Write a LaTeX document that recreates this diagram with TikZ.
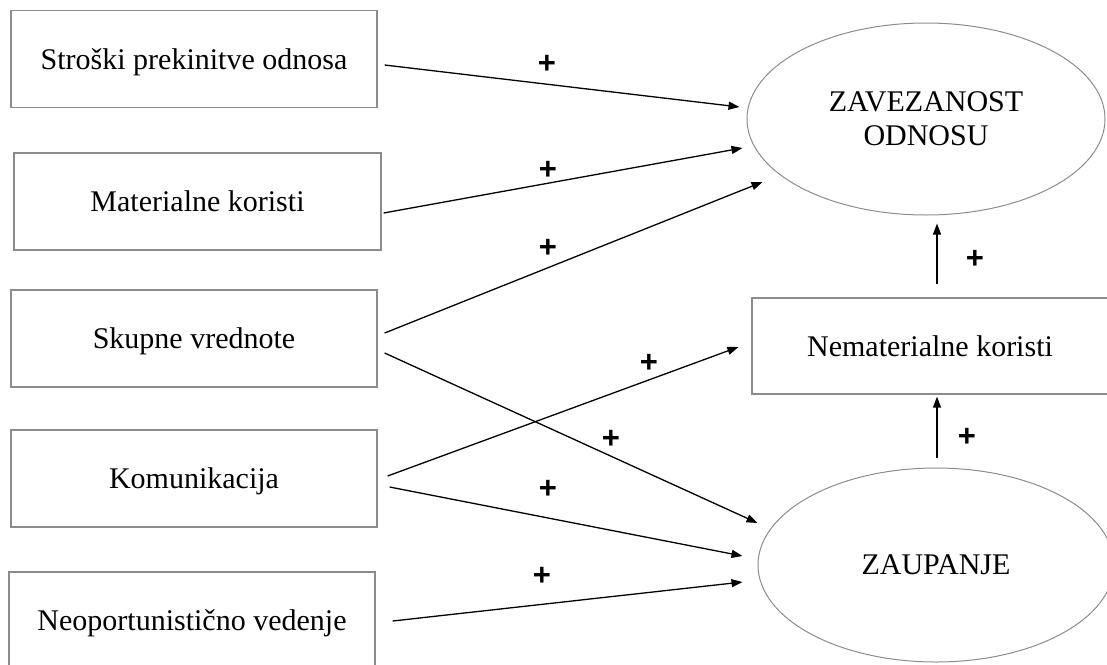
\documentclass[tikz,border=0pt]{standalone}
\usepackage{fontspec}
\setmainfont{Liberation Serif}
\newfontfamily\plusfont{Liberation Sans}
\usetikzlibrary{arrows.meta,shapes.geometric}

\begin{document}
\begin{tikzpicture}[x=1pt,y=-1pt]

      \useasboundingbox (0,0) rectangle (1107,664);
      \clip (0,0) rectangle (1107,664);

      \begin{scope}[every node/.style={rectangle,draw=black!45,line width=1.2pt,inner sep=0pt,
          minimum height=97pt,text depth=0pt,font=\fontsize{30}{34}\selectfont}]
        \node[minimum width=366pt] (stroski) at (194,59) {Stroški prekinitve odnosa};
        \node[minimum width=367pt] (materialne) at (197.5,201.5) {Materialne koristi};
        \node[minimum width=366pt] (skupne) at (194,338.5) {Skupne vrednote};
        \node[minimum width=366pt] (komunikacija) at (194,478.5) {Komunikacija};
        \node[minimum width=366pt] (neoport) at (192,620.5) {Neoportunistično vedenje};
        \node[minimum width=356pt,minimum height=96pt] (nemat) at (930,346) {Nematerialne koristi};
      \end{scope}

      \begin{scope}[every node/.style={ellipse,draw=black!45,line width=1pt,inner sep=0pt,
          align=center,font=\fontsize{30}{34}\selectfont}]
        \node[minimum width=358pt,minimum height=192pt] (zavezanost) at (926,119) {ZAVEZANOST\\ODNOSU};
        \node[minimum width=356pt,minimum height=194pt,text depth=0pt] (zaupanje) at (936,565) {ZAUPANJE};
      \end{scope}

      \begin{scope}[every edge/.style={draw,line width=1.3pt,-{Triangle[length=11pt,width=8pt]}}]
        \path ([shift={(7,6)}]stroski.east) edge ([shift={(-7,-12)}]zavezanost.west);
        \path ([shift={(2,11.5)}]materialne.east) edge ([shift={(-4,29)}]zavezanost.west);
        \path ([shift={(7,-5.5)}]skupne.east) edge ([shift={(16,63)}]zavezanost.west);
        \path ([shift={(7,14.5)}]skupne.east) edge ([shift={(0,-42)}]zaupanje.west);
        \path ([shift={(10,-2.5)}]komunikacija.east) edge ([shift={(-13,1)}]nemat.west);
        \path ([shift={(12,8.5)}]komunikacija.east) edge ([shift={(-15,-9)}]zaupanje.west);
        \path ([shift={(17,0.5)}]neoport.east) edge ([shift={(-15,17)}]zaupanje.west);
        \path ([shift={(7,-13)}]nemat.north) edge ([shift={(11,8)}]zavezanost.south);
        \path ([shift={(1,-10)}]zaupanje.north) edge ([shift={(7,2)}]nemat.south);
      \end{scope}

      \begin{scope}[every node/.style={inner sep=0pt,font=\plusfont\bfseries\fontsize{31}{31}\selectfont}]
        \node (p1) at (547,64) {+};
        \node (p2) at (548,170) {+};
        \node (p3) at (548,248) {+};
        \node (p4) at (611,439) {+};
        \node (p5) at (649,363) {+};
        \node (p6) at (548,489) {+};
        \node (p7) at (542,576) {+};
        \node (p8) at (975,259) {+};
        \node (p9) at (967,437) {+};
      \end{scope}

    \end{tikzpicture}
\end{document}
